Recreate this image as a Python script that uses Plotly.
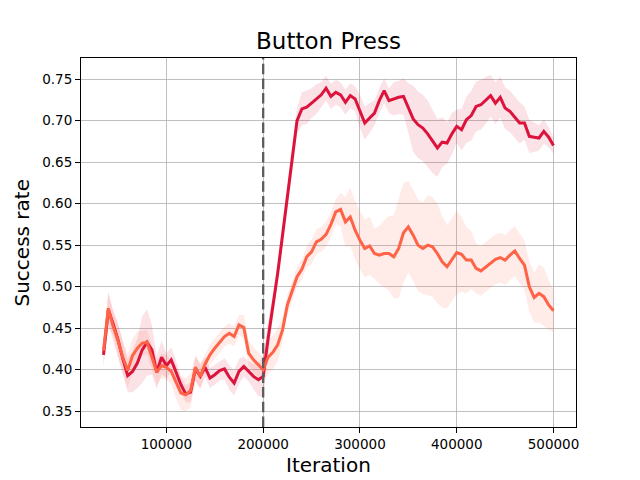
import numpy as np
import plotly.graph_objects as go

# ---------------- data ----------------
iterations = list(range(35000, 500001, 5000))

red_mean = [0.418, 0.472, 0.455, 0.436, 0.413, 0.393, 0.398, 0.408, 0.424, 0.433,
            0.424, 0.397, 0.415, 0.405, 0.412, 0.396, 0.382, 0.371, 0.373, 0.401,
            0.392, 0.403, 0.390, 0.394, 0.399, 0.401, 0.391, 0.384, 0.398, 0.404,
            0.398, 0.392, 0.388, 0.392, 0.437, 0.476, 0.516, 0.562, 0.608, 0.654,
            0.700, 0.714, 0.716, 0.721, 0.726, 0.731, 0.739, 0.729, 0.734, 0.731,
            0.722, 0.730, 0.726, 0.711, 0.697, 0.703, 0.709, 0.724, 0.736, 0.724,
            0.726, 0.728, 0.729, 0.715, 0.702, 0.695, 0.691, 0.684, 0.675, 0.667,
            0.674, 0.673, 0.684, 0.693, 0.689, 0.701, 0.706, 0.717, 0.719, 0.724,
            0.730, 0.721, 0.728, 0.715, 0.711, 0.704, 0.697, 0.697, 0.681, 0.680,
            0.679, 0.687, 0.680, 0.670]
red_spread = [0.015, 0.020, 0.015, 0.020, 0.020, 0.020, 0.025, 0.030, 0.040, 0.040,
              0.030, 0.020, 0.020, 0.015, 0.015, 0.015, 0.010, 0.010, 0.012, 0.015,
              0.015, 0.012, 0.012, 0.012, 0.012, 0.013, 0.015, 0.015, 0.015, 0.012,
              0.012, 0.015, 0.020, 0.025, 0.020, 0.015, 0.015, 0.015, 0.015, 0.015,
              0.015, 0.020, 0.020, 0.018, 0.018, 0.015, 0.015, 0.015, 0.015, 0.015,
              0.015, 0.015, 0.015, 0.020, 0.020, 0.018, 0.015, 0.015, 0.015, 0.015,
              0.020, 0.020, 0.022, 0.030, 0.040, 0.040, 0.040, 0.040, 0.038, 0.035,
              0.030, 0.025, 0.025, 0.020, 0.025, 0.028, 0.030, 0.030, 0.030, 0.028,
              0.025, 0.025, 0.025, 0.025, 0.025, 0.025, 0.025, 0.020, 0.020, 0.018,
              0.015, 0.015, 0.012, 0.010]

orange_mean = [0.423, 0.474, 0.452, 0.435, 0.415, 0.399, 0.417, 0.426, 0.432, 0.433,
               0.415, 0.397, 0.405, 0.403, 0.398, 0.385, 0.372, 0.370, 0.375, 0.403,
               0.392, 0.407, 0.418, 0.426, 0.433, 0.440, 0.444, 0.440, 0.454, 0.451,
               0.420, 0.412, 0.406, 0.400, 0.415, 0.421, 0.430, 0.448, 0.478, 0.494,
               0.512, 0.521, 0.536, 0.542, 0.554, 0.557, 0.563, 0.575, 0.590, 0.593,
               0.578, 0.584, 0.568, 0.556, 0.546, 0.549, 0.540, 0.538, 0.540, 0.540,
               0.536, 0.546, 0.565, 0.572, 0.562, 0.550, 0.546, 0.550, 0.548, 0.540,
               0.530, 0.524, 0.532, 0.541, 0.539, 0.532, 0.532, 0.522, 0.519, 0.524,
               0.529, 0.533, 0.535, 0.532, 0.538, 0.543, 0.534, 0.526, 0.500, 0.487,
               0.492, 0.488, 0.478, 0.471]
orange_spread = [0.015, 0.020, 0.020, 0.020, 0.020, 0.020, 0.020, 0.020, 0.015, 0.015,
                 0.015, 0.015, 0.015, 0.015, 0.015, 0.020, 0.020, 0.020, 0.020, 0.015,
                 0.015, 0.012, 0.012, 0.012, 0.012, 0.012, 0.012, 0.012, 0.012, 0.015,
                 0.015, 0.015, 0.015, 0.015, 0.020, 0.020, 0.020, 0.015, 0.012, 0.012,
                 0.012, 0.012, 0.012, 0.015, 0.015, 0.015, 0.015, 0.015, 0.015, 0.020,
                 0.030, 0.035, 0.035, 0.035, 0.035, 0.035, 0.030, 0.035, 0.040, 0.045,
                 0.050, 0.060, 0.060, 0.055, 0.055, 0.055, 0.055, 0.060, 0.060, 0.060,
                 0.055, 0.050, 0.050, 0.050, 0.045, 0.040, 0.035, 0.030, 0.030, 0.030,
                 0.030, 0.030, 0.030, 0.030, 0.030, 0.030, 0.030, 0.030, 0.030, 0.030,
                 0.035, 0.035, 0.030, 0.025]

switch_iteration = 200000
x_ticks = [100000, 200000, 300000, 400000, 500000]
x_tick_labels = ["100000", "200000", "300000", "400000", "500000"]
y_ticks = [0.35, 0.40, 0.45, 0.50, 0.55, 0.60, 0.65, 0.70, 0.75]
y_tick_labels = ["0.35", "0.40", "0.45", "0.50", "0.55", "0.60", "0.65", "0.70", "0.75"]

# ---------------- figure ----------------
FONT = "DejaVu Sans"
x = np.array(iterations)
series = [
    (np.array(red_mean), np.array(red_spread), "#DC143C", "rgba(220,20,60,0.12)"),
    (np.array(orange_mean), np.array(orange_spread), "#FF6347", "rgba(255,99,71,0.13)"),
]

fig = go.Figure()
for mean, spread, line_col, fill_col in series:
    lo, hi = mean - spread, mean + spread
    fig.add_trace(go.Scatter(x=np.concatenate([x, x[::-1]]),
                             y=np.concatenate([hi, lo[::-1]]),
                             fill="toself", fillcolor=fill_col,
                             line=dict(color="rgba(0,0,0,0)", width=0),
                             hoverinfo="skip", showlegend=False))
for mean, spread, line_col, fill_col in series:
    fig.add_trace(go.Scatter(x=x, y=mean, mode="lines",
                             line=dict(color=line_col, width=3),
                             showlegend=False))

fig.add_vline(x=switch_iteration, line=dict(color="#5c5c5c", width=2.3, dash="10.5px,4.2px"),
              layer="above")

xspan = iterations[-1] - iterations[0]
axis_common = dict(showline=True, linecolor="black", linewidth=1, mirror=True,
                   ticks="outside", ticklen=5, tickcolor="black", tickwidth=1,
                   showgrid=True, gridcolor="#b0b0b0", gridwidth=0.8,
                   zeroline=False, tickfont=dict(family=FONT, size=13.5, color="black"))

fig.update_layout(
    width=640, height=480,
    margin=dict(l=81, r=64, t=58, b=53),
    paper_bgcolor="white", plot_bgcolor="white",
    font=dict(family=FONT, color="black"),
    hovermode=False,
    title=dict(text="Button Press", x=0.5, xref="paper", xanchor="center",
               y=1 - 41 / 480, yref="container", yanchor="middle",
               font=dict(family=FONT, size=23, color="black")),
    xaxis=dict(range=[iterations[0] - 0.05 * xspan, iterations[-1] + 0.05 * xspan],
               tickvals=x_ticks, ticktext=x_tick_labels, **axis_common),
    yaxis=dict(range=[0.3311, 0.7753], tickvals=y_ticks, ticktext=y_tick_labels,
               **axis_common),
    annotations=[
        dict(text="Iteration", x=0.5, y=0, xref="paper", yref="paper",
             xanchor="center", yanchor="middle", yshift=-38, showarrow=False,
             font=dict(family=FONT, size=20, color="black")),
        dict(text="Success rate", x=0, y=0.5, xref="paper", yref="paper",
             xanchor="center", yanchor="middle", xshift=-60, textangle=-90,
             showarrow=False, font=dict(family=FONT, size=20, color="black")),
    ],
)

fig.write_html("out.html", config={"displayModeBar": False, "staticPlot": True},
               post_script="document.body.style.margin='0';document.body.style.padding='0';")
